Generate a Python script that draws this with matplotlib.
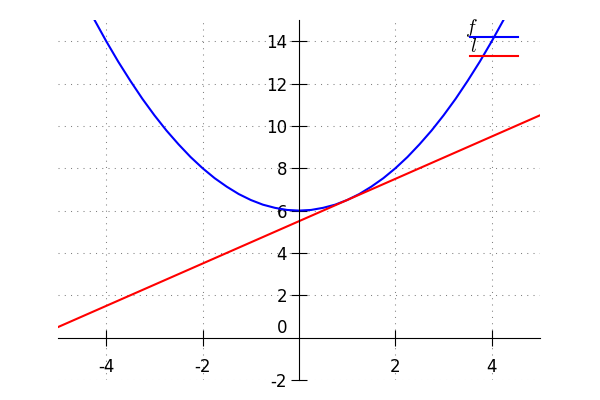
import matplotlib
matplotlib.use("Agg")
import matplotlib.pyplot as plt

plt.rcParams["axes.unicode_minus"] = False

# f(x)
x_f = [-4.5, -4.25, -4.0, -3.75, -3.5, -3.25, -3.0, -2.75, -2.5, -2.25, -2.0,
       -1.75, -1.5, -1.25, -1.0, -0.75, -0.5, -0.25, 0.0, 0.25, 0.5, 0.75,
       1.0, 1.25, 1.5, 1.75, 2.0, 2.25, 2.5, 2.75, 3.0, 3.25, 3.5, 3.75,
       4.0, 4.25, 4.5]
y_f = [16.13, 15.03, 14.0, 13.03, 12.13, 11.28, 10.5, 9.78, 9.13, 8.53, 8.0,
       7.53, 7.13, 6.78, 6.5, 6.28, 6.13, 6.03, 6.0, 6.03, 6.13, 6.28,
       6.5, 6.78, 7.13, 7.53, 8.0, 8.53, 9.13, 9.78, 10.5, 11.28, 12.13, 13.03,
       14.0, 15.03, 16.13]

# l(x), the red straight line
x_l = [-5.0, 5.0]
y_l = [0.5, 10.5]

xticks = [-4, -2, 2, 4]
yticks = [-2, 2, 4, 6, 8, 10, 12, 14]

fig = plt.figure(figsize=(6, 4), dpi=100)
ax = fig.add_axes([0.0967, 0.05, 0.8033, 0.9])

ax.plot(x_f, y_f, color="blue", lw=1.5, label="$f$")
ax.plot(x_l, y_l, color="red", lw=1.5, label="$l$")

ax.set_xlim(-5, 5)
ax.set_ylim(-2, 15)

for side in ["top", "right"]:
    ax.spines[side].set_visible(False)
ax.spines["left"].set_position(("data", 0))
ax.spines["bottom"].set_position(("data", 0))
for side in ["left", "bottom"]:
    ax.spines[side].set_linewidth(0.8)

ax.set_xticks(xticks)
ax.set_yticks(yticks)
ax.tick_params(direction="inout", length=11, width=0.8, labelsize=12)
ax.tick_params(axis="x", pad=9.5)
ax.tick_params(axis="y", pad=3)
ax.annotate("0", xy=(0, 0), xytext=(-8.4, 7.3), textcoords="offset points",
            ha="right", va="center", fontsize=12)

ax.grid(True, linestyle=(0, (1, 5)), color="gray", linewidth=0.75)
ax.set_axisbelow(True)

leg = ax.legend(loc="upper right", bbox_to_anchor=(0.971, 1.001),
                frameon=False, fontsize=14, markerfirst=False,
                handlelength=2.5, handletextpad=-0.4,
                labelspacing=-0.1, borderaxespad=0.0)
for t in leg.get_texts():
    t.set_math_fontfamily("cm")
    t.set_position((0, 10))

fig.savefig("out.png", dpi=100)
